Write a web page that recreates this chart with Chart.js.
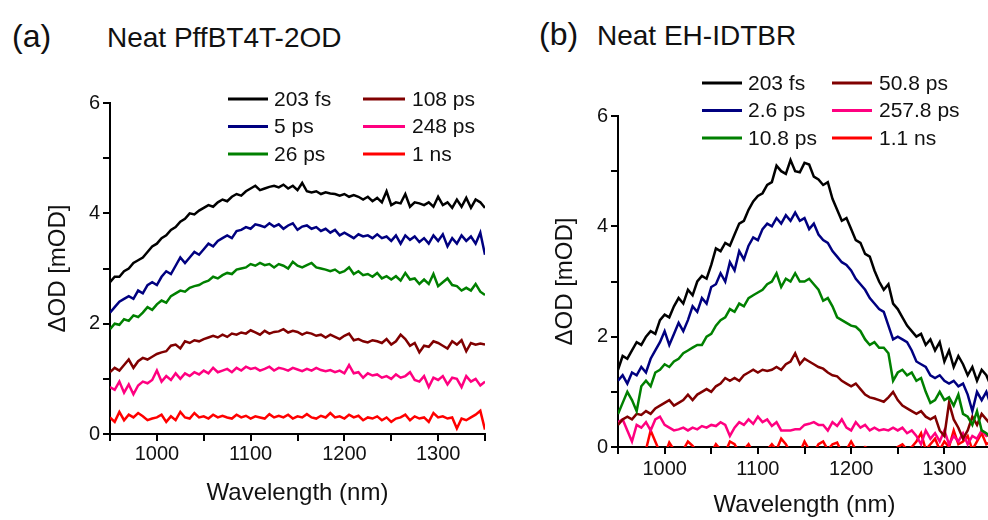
<!DOCTYPE html>
<html>
<head>
<meta charset="utf-8">
<script src="https://cdn.jsdelivr.net/npm/chart.js@4.4.1/dist/chart.umd.min.js"></script>
<style>
  body { margin: 0; background: #fff; overflow: hidden; width: 988px; height: 520px; position: relative; }
  .lbl { position: absolute; font-family: 'Liberation Sans', Arial, sans-serif; color: #111; white-space: nowrap; }
  canvas { position: absolute; top: 0; }
</style>
</head>
<body>
<div class="lbl" style="left:12px; top:18px; font-size:32px; line-height:36px;">(a)</div>
<div class="lbl" style="left:107px; top:22px; font-size:28px; line-height:32px;">Neat PffBT4T-2OD</div>
<div class="lbl" style="left:539px; top:16px; font-size:32px; line-height:36px;">(b)</div>
<div class="lbl" style="left:597px; top:20px; font-size:28px; line-height:32px;">Neat EH-IDTBR</div>
<canvas id="chartA" width="494" height="520" style="left:0"></canvas>
<canvas id="chartB" width="500" height="520" style="left:494px"></canvas>
<script>
// wavelength axis (nm), same for both panels
const wavelengths = [
  950, 955, 960, 965, 970, 975, 980, 985, 990, 995,
  1000, 1005, 1010, 1015, 1020, 1025, 1030, 1035, 1040, 1045,
  1050, 1055, 1060, 1065, 1070, 1075, 1080, 1085, 1090, 1095,
  1100, 1105, 1110, 1115, 1120, 1125, 1130, 1135, 1140, 1145,
  1150, 1155, 1160, 1165, 1170, 1175, 1180, 1185, 1190, 1195,
  1200, 1205, 1210, 1215, 1220, 1225, 1230, 1235, 1240, 1245,
  1250, 1255, 1260, 1265, 1270, 1275, 1280, 1285, 1290, 1295,
  1300, 1305, 1310, 1315, 1320, 1325, 1330, 1335, 1340, 1345,
  1350
];

// (a) Neat PffBT4T-2OD
const labelsA = ['203 fs', '5 ps', '26 ps', '108 ps', '248 ps', '1 ns'];
const a203fs = [
  2.75, 2.85, 2.85, 2.95, 3.0, 3.1, 3.15, 3.2, 3.3, 3.4,
  3.45, 3.55, 3.6, 3.7, 3.75, 3.85, 3.9, 4.0, 3.98, 4.05,
  4.1, 4.15, 4.12, 4.2, 4.25, 4.22, 4.3, 4.35, 4.32, 4.4,
  4.45, 4.5, 4.42, 4.45, 4.48, 4.5, 4.47, 4.52, 4.45, 4.5,
  4.42, 4.55, 4.4, 4.38, 4.4, 4.35, 4.38, 4.36, 4.35, 4.32,
  4.35, 4.3, 4.33, 4.3, 4.25, 4.3, 4.22, 4.28, 4.2, 4.4,
  4.15, 4.2, 4.18, 4.35, 4.12, 4.2, 4.18, 4.15, 4.2, 4.12,
  4.3, 4.15, 4.2, 4.1, 4.25, 4.12, 4.28, 4.1, 4.25, 4.2,
  4.1
];
const a5ps = [
  2.2, 2.3, 2.4, 2.45, 2.5, 2.45, 2.6, 2.55, 2.7, 2.75,
  2.7, 2.85, 2.95, 2.9, 3.05, 3.2, 3.1, 3.2, 3.3, 3.25,
  3.35, 3.45, 3.4, 3.5, 3.55, 3.6, 3.55, 3.68, 3.7, 3.75,
  3.72, 3.8, 3.78, 3.75, 3.82, 3.76, 3.8, 3.72, 3.78, 3.82,
  3.7, 3.76, 3.78, 3.72, 3.75, 3.68, 3.72, 3.65, 3.7, 3.6,
  3.65, 3.6, 3.55, 3.62, 3.58, 3.6, 3.55, 3.62, 3.55, 3.58,
  3.5, 3.6, 3.45, 3.6, 3.52, 3.58, 3.48, 3.55, 3.45, 3.6,
  3.5, 3.62, 3.4, 3.55, 3.45, 3.6, 3.5, 3.58, 3.45, 3.65,
  3.25
];
const a26ps = [
  1.9, 2.0, 1.98, 2.08, 2.05, 2.15, 2.12, 2.2, 2.3, 2.25,
  2.35, 2.42, 2.38, 2.5, 2.55, 2.6, 2.58, 2.65, 2.68, 2.7,
  2.75, 2.78, 2.85, 2.82, 2.88, 2.92, 2.9, 2.98, 3.0, 3.02,
  3.08, 3.05, 3.1, 3.06, 3.08, 3.02, 3.08, 3.05, 3.0, 3.12,
  3.05, 3.02, 3.06, 3.1, 3.02, 3.0, 2.98, 2.95, 2.98, 2.92,
  2.95, 3.02, 2.9, 2.95, 2.88, 2.9, 2.85, 2.92, 2.82, 2.86,
  2.8, 2.86, 2.78, 2.92, 2.8, 2.82, 2.72, 2.8, 2.72, 2.9,
  2.68, 2.75, 2.82, 2.7, 2.68, 2.6, 2.65, 2.6, 2.72, 2.58,
  2.52
];
const a108ps = [
  1.12, 1.2, 1.15, 1.25, 1.35, 1.2, 1.32, 1.38, 1.35, 1.4,
  1.45, 1.48, 1.5, 1.6, 1.62, 1.55, 1.68, 1.65, 1.7, 1.68,
  1.72, 1.75, 1.78, 1.75, 1.8, 1.76, 1.82, 1.8, 1.84, 1.82,
  1.88, 1.84, 1.8, 1.87, 1.82, 1.85, 1.86, 1.9, 1.84, 1.87,
  1.85, 1.8, 1.84, 1.82, 1.78, 1.8, 1.75, 1.8, 1.76, 1.72,
  1.78, 1.82, 1.7, 1.72, 1.68, 1.66, 1.7, 1.68, 1.65, 1.72,
  1.62, 1.68, 1.8, 1.72, 1.6, 1.65, 1.48, 1.6, 1.58, 1.68,
  1.65, 1.6, 1.55, 1.68, 1.62, 1.7, 1.5, 1.65, 1.62, 1.64,
  1.62
];
const a248ps = [
  0.85, 0.8, 0.95, 0.75, 0.9, 0.72, 0.88, 0.95, 0.92, 0.98,
  1.15, 0.95, 1.05, 0.98, 1.1, 1.0, 1.1, 1.05, 1.12, 1.08,
  1.15, 1.1, 1.2, 1.12, 1.15, 1.18, 1.12, 1.2, 1.15, 1.22,
  1.18, 1.2, 1.15, 1.18, 1.22, 1.15, 1.2, 1.18, 1.15, 1.2,
  1.17, 1.14, 1.18, 1.15, 1.2, 1.16, 1.14, 1.16, 1.12, 1.15,
  1.1, 1.25, 1.1, 1.12, 1.02, 1.1, 1.06, 1.08, 1.02, 1.05,
  1.0, 1.08, 1.02, 1.05, 1.12, 0.98, 0.95, 1.05, 0.85, 1.02,
  0.98, 1.05, 0.9, 1.02, 1.0, 0.85, 1.05, 0.95, 1.0, 0.88,
  0.95
];
const a1ns = [
  0.3, 0.22, 0.4, 0.25, 0.35, 0.3, 0.38, 0.32, 0.25, 0.28,
  0.3, 0.35, 0.22, 0.32, 0.25, 0.4, 0.3, 0.28, 0.38, 0.3,
  0.32, 0.28, 0.35, 0.3, 0.33, 0.3, 0.28, 0.35, 0.3, 0.33,
  0.28, 0.32, 0.3, 0.28, 0.36, 0.3, 0.33, 0.3, 0.35, 0.28,
  0.32, 0.3, 0.36, 0.3, 0.28, 0.33, 0.3, 0.38, 0.3, 0.32,
  0.28, 0.35, 0.3, 0.33, 0.25, 0.3, 0.28, 0.32, 0.25, 0.3,
  0.22, 0.28, 0.3, 0.35, 0.25, 0.32, 0.28, 0.3, 0.22, 0.38,
  0.3, 0.32, 0.28, 0.3, 0.1, 0.28, 0.25, 0.3, 0.35, 0.42,
  0.08
];

// (b) Neat EH-IDTBR
const labelsB = ['203 fs', '2.6 ps', '10.8 ps', '50.8 ps', '257.8 ps', '1.1 ns'];
const b203fs = [
  1.4, 1.65, 1.6, 1.75, 1.9, 1.85, 2.0, 2.1, 2.05, 2.3,
  2.4, 2.35, 2.55, 2.7, 2.6, 2.85, 2.75, 3.0, 3.1, 3.05,
  3.3, 3.6, 3.55, 3.7, 3.65, 3.85, 4.05, 4.1, 4.3, 4.45,
  4.55, 4.6, 4.75, 4.8, 5.1, 5.0, 4.95, 5.2, 5.0, 4.98,
  5.15, 5.12, 4.9, 4.85, 4.75, 4.8, 4.5, 4.3, 4.1, 4.15,
  3.95, 3.75, 3.7, 3.5, 3.45, 3.2, 3.0, 2.85, 2.95, 2.6,
  2.5, 2.35, 2.2, 2.1, 2.0, 2.05, 1.85, 1.95, 1.75, 1.9,
  1.55, 1.75, 1.45, 1.65, 1.5, 1.3, 1.45, 1.2, 1.4, 1.3,
  1.1
];
const b26ps = [
  1.2, 1.3, 1.15, 1.35, 1.3, 1.45, 1.35, 1.6, 1.75, 1.9,
  2.1, 1.85, 2.05, 2.25, 2.1, 2.3, 2.55, 2.45, 2.7, 2.6,
  2.9, 2.95, 3.15, 3.0, 3.35, 3.2, 3.55, 3.4, 3.65, 3.8,
  3.75, 3.95, 4.05, 4.0, 4.15, 4.05, 4.2, 4.1, 4.25, 4.1,
  4.15, 3.95, 4.05, 3.85, 3.75, 3.7, 3.55, 3.45, 3.35, 3.3,
  3.2, 3.05, 2.95, 2.85, 2.7, 2.6, 2.5, 2.45, 2.2, 1.95,
  2.0, 1.95, 1.9, 1.75, 1.55, 1.5, 1.45, 1.3, 1.25, 1.3,
  1.2, 1.15, 1.2, 1.1, 1.15, 0.95, 0.65, 1.0, 0.85, 1.0,
  0.75
];
const b108ps = [
  0.6, 0.8, 1.0, 0.85, 0.65, 1.1, 1.2, 1.1, 1.35, 1.4,
  1.5, 1.45, 1.55, 1.6, 1.7, 1.75, 1.8, 1.85, 1.85, 2.0,
  2.05, 2.2, 2.3, 2.35, 2.5, 2.45, 2.6, 2.55, 2.7, 2.75,
  2.8, 2.85, 2.95, 3.0, 3.15, 2.9, 3.05, 3.0, 3.15, 3.0,
  3.0, 3.05, 2.95, 2.85, 2.65, 2.7, 2.55, 2.35, 2.3, 2.25,
  2.2, 2.18, 2.1, 1.95, 1.85, 1.9, 1.8, 1.8, 1.7, 1.2,
  1.35, 1.4, 1.3, 1.35, 1.2, 1.25, 1.0, 0.8, 0.85, 1.0,
  0.85, 0.9, 0.75, 0.95, 0.6, 0.55, 0.4, 0.65, 0.3, 0.25,
  0.15
];
const b508ps = [
  0.4, 0.5, 0.55, 0.5, 0.6, 0.58, 0.65, 0.6, 0.7, 0.75,
  0.8, 0.85, 0.75, 0.8, 0.85, 0.95, 0.85, 0.95, 1.0, 1.05,
  1.0, 1.1, 1.15, 1.25, 1.2, 1.25, 1.2, 1.3, 1.35, 1.4,
  1.35, 1.4, 1.38, 1.4, 1.45, 1.4, 1.5, 1.55, 1.7, 1.5,
  1.6, 1.55, 1.5, 1.45, 1.42, 1.35, 1.3, 1.28, 1.2, 1.15,
  1.1, 1.15, 1.05, 0.95, 0.9, 0.88, 0.85, 0.82, 0.9, 1.0,
  0.85, 0.75, 0.7, 0.65, 0.6, 0.65, 0.55, 0.5, 0.55, 0.3,
  0.2, 0.8, 0.5, 0.35, 0.15, 0.3, 0.55, 0.4, 0.6, 0.5,
  0.4
];
const b2578ps = [
  0.45, 0.5, 0.3, 0.1, 0.4, 0.35, 0.45, 0.3, 0.5, 0.55,
  0.4, 0.35, 0.3, 0.32, 0.35, 0.3, 0.35, 0.32, 0.38, 0.35,
  0.4, 0.38, 0.45, 0.4, 0.2, 0.35, 0.45, 0.4, 0.5, 0.42,
  0.55, 0.45, 0.5, 0.38, 0.45, 0.3, 0.3, 0.3, 0.32, 0.32,
  0.4, 0.42, 0.45, 0.4, 0.4, 0.3, 0.45, 0.38, 0.5, 0.35,
  0.3, 0.45, 0.35, 0.4, 0.3, 0.35, 0.3, 0.32, 0.3, 0.35,
  0.3, 0.35, 0.25, 0.3, 0.2, 0.05, 0.3, 0.15, 0.25, 0.1,
  0.3, 0.05, 0.2, 0.1, 0.25, 0.05, 0.2, 0.15, 0.3, 0.2,
  0.25
];
const b11ns = [
  -0.1, -0.15, -0.1, -0.2, -0.1, -0.15, -0.05, 0.3, 0.1, -0.1,
  -0.15, 0.08, -0.05, -0.1, -0.05, 0.1, 0.02, -0.1, -0.15, -0.05,
  -0.1, 0.05, -0.05, -0.1, 0.1, 0.05, -0.1, -0.05, 0.05, -0.1,
  -0.05, -0.1, -0.05, 0.05, -0.05, 0.15, 0.05, -0.1, -0.05, -0.1,
  0.1, -0.05, -0.1, 0.05, 0.1, -0.05, 0.05, 0.08, -0.1, -0.05,
  0.1, -0.05, -0.1, 0.0, -0.05, -0.1, -0.05, -0.1, -0.05, -0.1,
  0.0, 0.05, -0.05, 0.0, 0.1, 0.25, -0.05, 0.05, 0.15, -0.05,
  0.1, 0.0, 0.3, 0.05, 0.1, 0.2, -0.05, 0.1, 0.25, 0.05,
  0.1
];

const seriesColors = ['#000000', '#000080', '#008000', '#800000', '#ff0080', '#ff0000'];
const yTicks = [0, 2, 4, 6];
const xTicks = [1000, 1100, 1200, 1300];

Chart.defaults.font.family = "'Liberation Sans', Arial, sans-serif";
Chart.defaults.color = '#111';

function toPoints(values) {
  return values.map((v, i) => ({ x: wavelengths[i], y: v }));
}

function makeDatasets(labels, seriesList) {
  return seriesList.map((vals, i) => ({
    label: labels[i],
    data: toPoints(vals),
    borderColor: seriesColors[i],
    backgroundColor: seriesColors[i],
    borderWidth: 2.5,
    pointRadius: 0,
    tension: 0,
    fill: false
  }));
}

// legend drawn in two columns of three, like the original figure
const gridLegend = {
  id: 'gridLegend',
  afterDraw(chart, args, opts) {
    const ctx = chart.ctx;
    ctx.save();
    ctx.font = '21px "Liberation Sans", Arial, sans-serif';
    ctx.textBaseline = 'middle';
    ctx.textAlign = 'left';
    chart.data.datasets.forEach((ds, i) => {
      const col = opts.cols[Math.floor(i / 3)];
      const y = opts.y0 + (i % 3) * opts.dy;
      ctx.strokeStyle = ds.borderColor;
      ctx.lineWidth = 3;
      ctx.beginPath();
      ctx.moveTo(col.x0, y);
      ctx.lineTo(col.x1, y);
      ctx.stroke();
      ctx.fillStyle = '#111';
      ctx.fillText(ds.label, col.tx, y + 1);
    });
    ctx.restore();
  }
};

function makeChart(id, labels, seriesList, cfg) {
  return new Chart(document.getElementById(id), {
    type: 'line',
    data: { datasets: makeDatasets(labels, seriesList) },
    plugins: [gridLegend],
    options: {
      responsive: false,
      animation: false,
      layout: { padding: { top: cfg.top, right: cfg.right, left: 0, bottom: 0 } },
      plugins: {
        legend: { display: false },
        tooltip: { enabled: false },
        gridLegend: cfg.legend
      },
      scales: {
        x: {
          type: 'linear',
          min: 950,
          max: 1350,
          afterFit: s => { s.height = cfg.xHeight; },
          afterBuildTicks: s => { s.ticks = [950, 1000, 1050, 1100, 1150, 1200, 1250, 1300, 1350].map(v => ({ value: v })); },
          ticks: {
            autoSkip: false,
            maxRotation: 0,
            padding: cfg.xPad,
            color: '#111',
            font: { size: 20 },
            callback: v => xTicks.includes(v) ? String(v) : ''
          },
          grid: { drawOnChartArea: false, drawTicks: true, tickLength: 7, color: '#000', lineWidth: 2 },
          border: { display: true, color: '#000', width: 2 },
          title: { display: true, text: 'Wavelength (nm)', color: '#111', font: { size: 24 }, padding: { top: 0, bottom: cfg.xTitlePad } }
        },
        y: {
          min: 0,
          max: 6,
          afterFit: s => { s.width = cfg.yWidth; },
          ticks: {
            stepSize: 1,
            padding: 3,
            color: '#111',
            font: { size: 20 },
            callback: v => yTicks.includes(v) ? String(v) : ''
          },
          grid: { drawOnChartArea: false, drawTicks: true, tickLength: 7, color: '#000', lineWidth: 2 },
          border: { display: true, color: '#000', width: 2 },
          title: { display: true, text: 'ΔOD [mOD]', color: '#111', font: { size: 24 }, padding: { top: cfg.yTitlePad, bottom: 0 } }
        }
      }
    }
  });
}

makeChart('chartA', labelsA, [a203fs, a5ps, a26ps, a108ps, a248ps, a1ns], {
  top: 103, right: 9, xHeight: 86, yWidth: 110, xPad: 1, xTitlePad: 12.6, yTitlePad: 43.6,
  legend: { cols: [{ x0: 228, x1: 268, tx: 274 }, { x0: 363, x1: 405, tx: 412 }], y0: 99, dy: 27.5 }
});

makeChart('chartB', labelsB, [b203fs, b26ps, b108ps, b508ps, b2578ps, b11ns], {
  top: 116, right: 2.7, xHeight: 73, yWidth: 124, xPad: 3, xTitlePad: 0.6, yTitlePad: 56.6,
  legend: { cols: [{ x0: 208, x1: 248, tx: 254 }, { x0: 338, x1: 378, tx: 385 }], y0: 83, dy: 27.5 }
});
</script>
</body>
</html>
